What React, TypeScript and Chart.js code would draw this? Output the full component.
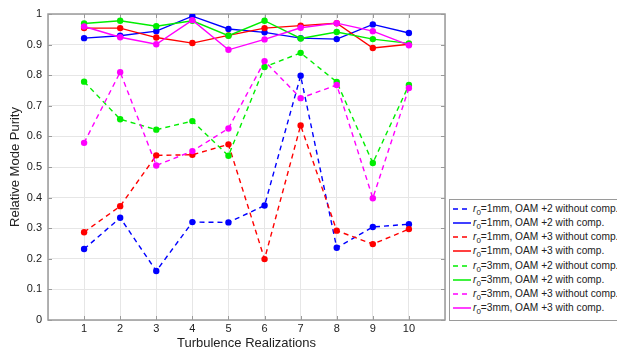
import React, { useEffect, useRef } from "react";
import { Chart, registerables } from "chart.js";

Chart.register(...registerables);

const realizations = [1, 2, 3, 4, 5, 6, 7, 8, 9, 10];
const xTicks = [0, 1, 2, 3, 4, 5, 6, 7, 8, 9, 10, 11];
const yTicks = [0, 0.1, 0.2, 0.3, 0.4, 0.5, 0.6, 0.7, 0.8, 0.9, 1];

const r1_oam2_without = [0.232, 0.334, 0.16, 0.32, 0.319, 0.374, 0.798, 0.236, 0.304, 0.313];
const r1_oam2_with = [0.921, 0.929, 0.944, 0.993, 0.951, 0.94, 0.921, 0.918, 0.966, 0.938];
const r1_oam3_without = [0.287, 0.372, 0.538, 0.54, 0.574, 0.199, 0.636, 0.292, 0.248, 0.297];
const r1_oam3_with = [0.954, 0.954, 0.923, 0.905, 0.93, 0.954, 0.962, 0.97, 0.889, 0.901];
const r3_oam2_without = [0.779, 0.656, 0.622, 0.65, 0.537, 0.827, 0.873, 0.778, 0.513, 0.768];
const r3_oam2_with = [0.969, 0.978, 0.96, 0.978, 0.929, 0.978, 0.92, 0.941, 0.918, 0.904];
const r3_oam3_without = [0.579, 0.81, 0.505, 0.552, 0.626, 0.846, 0.725, 0.768, 0.398, 0.758];
const r3_oam3_with = [0.959, 0.924, 0.901, 0.98, 0.883, 0.917, 0.955, 0.97, 0.944, 0.898];

const seriesRadius = ["1mm", "1mm", "1mm", "1mm", "3mm", "3mm", "3mm", "3mm"];
const seriesText = [
  "OAM +2 without comp.",
  "OAM +2 with comp.",
  "OAM +3 without comp.",
  "OAM +3 with comp.",
  "OAM +2 without comp.",
  "OAM +2 with comp.",
  "OAM +3 without comp.",
  "OAM +3 with comp.",
];
const seriesValues = [
  r1_oam2_without,
  r1_oam2_with,
  r1_oam3_without,
  r1_oam3_with,
  r3_oam2_without,
  r3_oam2_with,
  r3_oam3_without,
  r3_oam3_with,
];
const seriesColors = ["#0000ff", "#0000ff", "#ff0000", "#ff0000", "#00ee00", "#00ee00", "#ff00ff", "#ff00ff"];
const seriesDashed = [true, false, true, false, true, false, true, false];

const FONT = "'Liberation Sans', Arial, Helvetica, sans-serif";

const boxPlugin = {
  id: "matlabBox",
  beforeDatasetsDraw(chart: any) {
    const { ctx, chartArea } = chart;
    const { left, right, top, bottom } = chartArea;
    const xs = chart.scales.x;
    const ys = chart.scales.y;
    ctx.save();
    ctx.strokeStyle = "#9a9a9a";
    ctx.lineWidth = 1;
    ctx.beginPath();
    for (const t of xTicks) {
      if (t === 0 || t === 11) continue;
      const px = Math.round(xs.getPixelForValue(t)) + 0.5;
      ctx.moveTo(px, bottom);
      ctx.lineTo(px, bottom - 4);
      ctx.moveTo(px, top);
      ctx.lineTo(px, top + 4);
    }
    for (const t of yTicks) {
      const py = Math.round(ys.getPixelForValue(t)) + 0.5;
      ctx.moveTo(left, py);
      ctx.lineTo(left + 4, py);
      ctx.moveTo(right, py);
      ctx.lineTo(right - 4, py);
    }
    ctx.stroke();
    ctx.lineWidth = 1.5;
    ctx.strokeRect(left, top, right - left, bottom - top);
    ctx.restore();
  },
};

function LegendSample({ color, dashed }: { color: string; dashed: boolean }) {
  return (
    <svg width={18} height={10} style={{ display: "block", flex: "0 0 auto" }}>
      <line
        x1={0}
        y1={5}
        x2={18}
        y2={5}
        stroke={color}
        strokeWidth={1.5}
        strokeDasharray={dashed ? "5 4" : undefined}
      />
    </svg>
  );
}

export default function App() {
  const canvasRef = useRef<HTMLCanvasElement | null>(null);

  useEffect(() => {
    if (!canvasRef.current) return;
    const datasets = seriesValues.map((vals, i) => ({
      label: `r0=${seriesRadius[i]}, ${seriesText[i]}`,
      data: realizations.map((x, j) => ({ x, y: vals[j] })),
      borderColor: seriesColors[i],
      backgroundColor: seriesColors[i],
      borderWidth: 1.4,
      borderDash: seriesDashed[i] ? [5, 4] : [],
      pointRadius: 3.2,
      pointBorderWidth: 0,
      pointBackgroundColor: seriesColors[i],
      tension: 0,
      order: 8 - i,
    }));
    const chart = new Chart(canvasRef.current, {
      type: "line",
      data: { datasets },
      options: {
        animation: false,
        responsive: false,
        devicePixelRatio: 1,
        layout: { padding: { left: 0, top: 14, right: 172, bottom: 0 } },
        plugins: { legend: { display: false }, tooltip: { enabled: false } },
        scales: {
          x: {
            type: "linear",
            min: 0,
            max: 11,
            afterBuildTicks: (scale: any) => {
              scale.ticks = xTicks.map((v) => ({ value: v }));
            },
            afterFit: (scale: any) => {
              scale.height = 34;
            },
            ticks: {
              padding: 2,
              autoSkip: false,
              maxRotation: 0,
              color: "#222",
              font: { family: FONT, size: 11 },
              callback: (v: any) => (v === 0 || v === 11 ? "" : String(v)),
            },
            grid: { color: "#e6e6e6", drawTicks: false, lineWidth: 1 },
            border: { display: false },
            title: {
              display: true,
              text: "Turbulence Realizations",
              color: "#222",
              font: { family: FONT, size: 13 },
              padding: { top: 0, bottom: 3 },
            },
          },
          y: {
            type: "linear",
            min: 0,
            max: 1,
            afterBuildTicks: (scale: any) => {
              scale.ticks = yTicks.map((v) => ({ value: v }));
            },
            afterFit: (scale: any) => {
              scale.width = 48;
            },
            ticks: {
              padding: 6,
              color: "#222",
              font: { family: FONT, size: 11 },
              callback: (v: any) => (v === 0 ? "0" : v === 1 ? "1" : Number(v).toFixed(1)),
            },
            grid: { color: "#e6e6e6", drawTicks: false, lineWidth: 1 },
            border: { display: false },
            title: {
              display: true,
              text: "Relative Mode Purity",
              color: "#222",
              font: { family: FONT, size: 13 },
              padding: { top: 8, bottom: 0 },
            },
          },
        },
      },
      plugins: [boxPlugin],
    });
    return () => chart.destroy();
  }, []);

  return (
    <div
      style={{
        position: "absolute",
        left: 0,
        top: 0,
        width: 617,
        height: 354,
        overflow: "hidden",
        background: "#fff",
      }}
    >
      <canvas ref={canvasRef} width={617} height={354} style={{ display: "block", width: 617, height: 354 }} />
      <div
        style={{
          position: "absolute",
          left: 449,
          top: 199,
          width: 200,
          height: 122,
          border: "1px solid #9a9a9a",
          background: "#fff",
          boxSizing: "border-box",
          paddingTop: 2,
          fontFamily: FONT,
          fontSize: 10.2,
          color: "#222",
        }}
      >
        {seriesValues.map((_, i) => (
          <div
            key={i}
            style={{ display: "flex", alignItems: "center", height: 14.14, whiteSpace: "nowrap", paddingLeft: 3 }}
          >
            <LegendSample color={seriesColors[i]} dashed={seriesDashed[i]} />
            <span style={{ marginLeft: 2, lineHeight: "14px" }}>
              <i>r</i>
              <sub style={{ fontSize: 8, verticalAlign: -3, lineHeight: 0 }}>0</sub>
              {`=${seriesRadius[i]}, ${seriesText[i]}`}
            </span>
          </div>
        ))}
      </div>
    </div>
  );
}
